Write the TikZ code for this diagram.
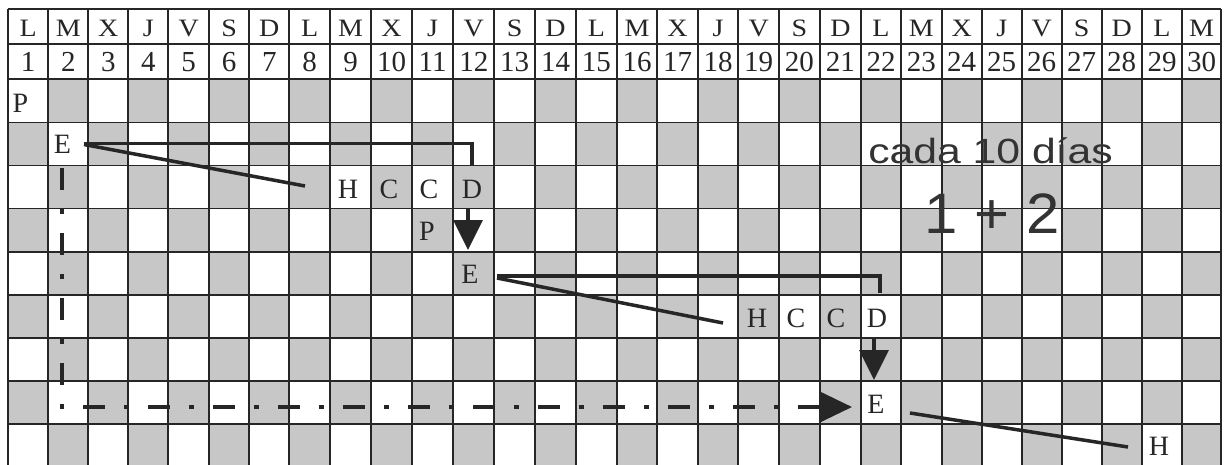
\documentclass[tikz,border=0pt]{standalone}
\usepackage{fontspec}
\setmainfont{Liberation Serif}
\newfontfamily\arialf{Liberation Sans}
\usetikzlibrary{arrows.meta,calc}
\newcommand\hstretch[1]{\scalebox{1.12}[1]{#1}}
\def\xs{{8,48.3,88.3,128.3,168.3,209,249.3,289.3,330,371,412,453.3,494.3,535,576,616.7,657.3,697.7,738.3,779,819.7,861,901,941.7,981.7,1021.7,1061.7,1101.7,1141.7,1182.3,1220.7}}
\def\ys{{9.3,44.3,79.3,122.5,165.5,208.5,251.7,295,337.8,380.8,424,467}}
\begin{document}
\begin{tikzpicture}[x=1pt,y=-1pt,
  gridline/.style={line width=1.7pt, draw=black!85},
  shadecell/.style={fill=black!22},
  hdr/.style={font=\fontsize{25}{25}\selectfont, text=black!85, inner sep=0pt, anchor=base},
  num/.style={font=\fontsize{29}{29}\selectfont, text=black!85, inner sep=0pt, anchor=base},
  letter/.style={font=\fontsize{28}{28}\selectfont, text=black!85, inner sep=0pt, anchor=base},
  conn/.style={line width=3.5pt, draw=black!85},
  arr/.style={conn, -{Triangle[width=29pt,length=30pt]}},
  dashdot/.style={conn, dash pattern=on 22pt off 19pt on 5pt off 19pt, -{Triangle[width=30pt,length=32pt]}},
  big/.style={font=\arialf\fontsize{35}{35}\selectfont, text=black!80, inner sep=0pt, anchor=base},
  bigger/.style={font=\arialf\fontsize{57}{57}\selectfont, text=black!80, inner sep=0pt, anchor=base}
]
\useasboundingbox (0,0) rectangle (1225,464);
\clip (0,0) rectangle (1225,464);
\fill[white] (0,0) rectangle (1225,464);
% shaded checkerboard cells
\foreach \r in {0,...,8}{
  \foreach \k in {1,...,30}{
    \pgfmathtruncatemacro\pp{mod(\r+\k,2)}
    \ifnum\pp=0
      \pgfmathtruncatemacro\km{\k-1}
      \pgfmathtruncatemacro\ra{\r+2}
      \pgfmathtruncatemacro\rb{\r+3}
      \pgfmathsetmacro\xa{\xs[\km]}
      \pgfmathsetmacro\xb{\xs[\k]}
      \pgfmathsetmacro\ya{\ys[\ra]}
      \pgfmathsetmacro\yb{\ys[\rb]}
      \fill[shadecell] (\xa,\ya) rectangle (\xb,\yb);
    \fi
  }
}
% grid lines
\foreach \i in {0,...,30}{
  \pgfmathsetmacro\xa{\xs[\i]}
  \draw[gridline] (\xa,9.3) -- (\xa,467);
}
\foreach \j in {0,...,11}{
  \pgfmathsetmacro\ya{\ys[\j]}
  \draw[gridline] (8,\ya) -- (1220.7,\ya);
}
% header
\foreach \d [count=\k] in {L,M,X,J,V,S,D,L,M,X,J,V,S,D,L,M,X,J,V,S,D,L,M,X,J,V,S,D,L,M}{
  \pgfmathtruncatemacro\km{\k-1}
  \pgfmathsetmacro\xa{\xs[\km]}
  \pgfmathsetmacro\xb{\xs[\k]}
  \pgfmathsetmacro\xm{(\xa+\xb)/2}
  \node[hdr] (h\k) at (\xm,36.7) {\hstretch{\d}};
  \node[num] (n\k) at (\xm,71.7) {\k};
}
% body letters
\node[letter] (P0) at (20.5,112) {P};
\node[letter] (E1) at (62.5,153) {E};
\node[letter] (H1) at (348,198) {H};
\node[letter] (C1a) at (389,198) {C};
\node[letter] (C1b) at (429,198) {C};
\node[letter] (D1) at (472,198) {D};
\node[letter] (P1) at (427,240) {P};
\node[letter] (E2) at (470,283) {E};
\node[letter] (H2) at (757,327) {H};
\node[letter] (C2a) at (796,327) {C};
\node[letter] (C2b) at (836,327) {C};
\node[letter] (D2) at (877,327) {D};
\node[letter] (E3) at (876,413) {E};
\node[letter] (H3) at (1159,455) {H};
% big texts
\node[big] (cada) at (990.5,163) {\scalebox{1.22}[1]{cada 10 días}};
\node[bigger] (sum) at (992,233) {\scalebox{1.05}[1]{1 + 2}};
% connectors
\draw[conn] ($(E1.base)+(21.5,-9.5)$) -| ($(D1.base)+(0,-32)$);
\draw[conn] ($(E1.base)+(21.5,-8.5)$) -- ($(H1.base)+(-43,-12)$);
\draw[arr] ($(D1.base)+(-4,11)$) -- ($(E2.base)+(-2,-33)$);
\draw[conn] ($(E2.base)+(27,-7)$) -| ($(D2.base)+(3,-34)$);
\draw[conn] ($(E2.base)+(27,-5)$) -- ($(H2.base)+(-34,-4)$);
\draw[arr] ($(D2.base)+(-3,11)$) -- ($(E3.base)+(-2,-33)$);
\draw[dashdot] ($(E1.base)+(-0.5,15)$) |- ($(E3.base)+(-24,-6)$);
\draw[conn] ($(E3.base)+(34,0)$) -- ($(H3.base)+(-31,-8)$);
\end{tikzpicture}
\end{document}
